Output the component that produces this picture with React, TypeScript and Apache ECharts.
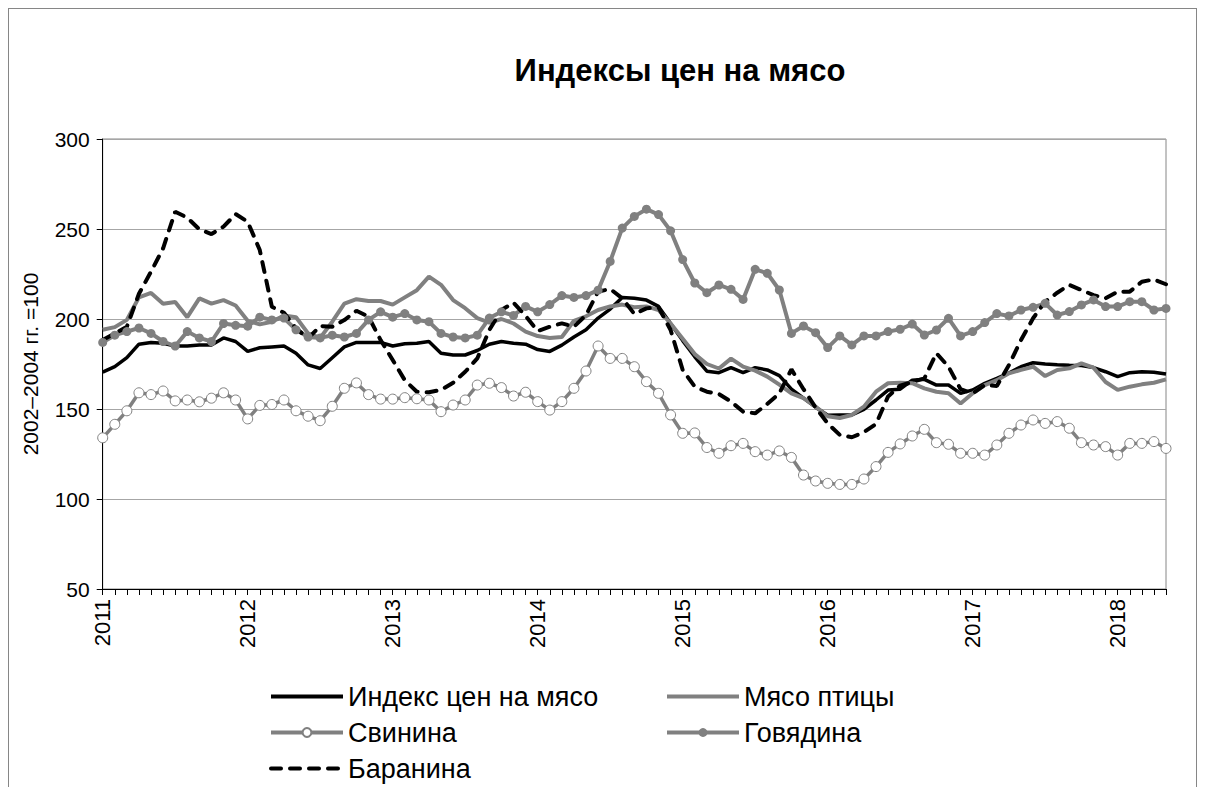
import React, { useEffect, useRef } from "react";
import * as echarts from "echarts";

const YEAR_LABELS = ["2011", "2012", "2013", "2014", "2015", "2016", "2017", "2018"];
const MONTH_LABELS = ["01", "02", "03", "04", "05", "06", "07", "08", "09", "10", "11", "12"];
// Jan 2011 .. May 2018 (89 months)
const CATEGORIES: string[] = [];
for (let y = 0; y < YEAR_LABELS.length; y++) {
  for (let m = 0; m < 12; m++) {
    if (y === YEAR_LABELS.length - 1 && m > 4) break;
    CATEGORIES.push(YEAR_LABELS[y] + "-" + MONTH_LABELS[m]);
  }
}

const SERIES_NAMES = ["Индекс цен на мясо", "Мясо птицы", "Свинина", "Говядина", "Баранина"];

const MEAT_INDEX = [
  170.5, 173.5, 178.5, 186, 187, 186.5, 185, 185, 185.5, 185.5, 189.5, 187.5,
  182, 184, 184.5, 185, 181, 174.5, 172.5, 178.5, 184.5, 187, 187, 187,
  185, 186.3, 186.5, 187.5, 181, 180, 180, 182.5, 186, 187.5, 186.5, 186,
  183, 182, 185.5, 190, 194, 200.5, 205.5, 212, 211.5, 210.5, 207, 197.5,
  188, 179, 171, 170.2, 173, 170.2, 173, 171.7, 168.5, 161, 156, 151,
  146.5, 146.7, 146.7, 149.8, 155, 160.5, 161, 166, 166.5, 163.3, 163.3, 158.7,
  160.6, 164.3, 167, 170, 173.5, 175.7, 175, 174.6, 174.3, 174.1, 173, 170.7,
  168, 170.2, 170.7, 170.4, 169.4,
];

const POULTRY = [
  194, 195.5, 199.5, 212, 214.5, 208.5, 209.5, 201, 211.5, 208.5, 210.5, 207.5,
  199, 197, 198.5, 202, 201, 192, 189.5, 198.5, 208.5, 211, 210, 210,
  208, 212, 216, 223.5, 219, 210.5, 206, 200.5, 198, 200, 197.5, 193,
  190.5, 189.5, 190, 199, 201.5, 205, 207, 208, 206.5, 207, 205, 197.5,
  189, 180.5, 175, 172.5, 178, 173.5, 171.3, 168, 163.5, 158.7, 156, 151.3,
  146, 145, 146.7, 151.3, 159.6, 164.3, 164.6, 164.3, 161.5, 159.6, 158.7, 153,
  158.7, 163.3, 166, 169.8, 171.7, 173.5, 168.3, 171.7, 172.6, 175.4, 173, 165,
  160.6, 162.4, 163.7, 164.6, 166.5,
];

const PORK = [
  134, 141.5, 149, 159, 158, 160, 154.5, 155, 154, 156, 159, 155,
  144.5, 152, 152.5, 155, 149, 146, 143.5, 151.5, 161.5, 164.5, 158, 155.5,
  155.5, 156.3, 155.7, 155, 148.5, 152.2, 155, 163.3, 164.3, 161.9, 157.2, 159.3,
  154.1, 149.4, 154.1, 161.5, 171.1, 185, 178.1, 178.1, 173.5, 165.2, 158.7, 146.7,
  136.5, 136.7, 128.6, 125.4, 129.6, 130.9, 126.3, 124.4, 126.7, 123.1, 113.3, 110,
  108.7, 108.1, 108.1, 111.1, 118, 125.9, 130.6, 135, 138.7, 131.3, 130.4, 125.4,
  125.4, 124.4, 130, 136.5, 141.1, 143.9, 142, 143, 139.3, 131.3, 130, 129.1,
  124.4, 130.9, 130.9, 131.9, 128.1,
];

const BEEF = [
  187, 191, 193, 195, 192, 187.5, 185, 193, 189.5, 187.5, 197.5, 196.5,
  196, 201, 199.5, 200.5, 194, 190, 189.5, 191, 190, 192, 199.5, 204,
  201, 203, 199.5, 198.5, 192, 190, 189.5, 191, 200.5, 204, 202, 207,
  204, 208, 213, 212, 213, 216, 232, 250.5, 257, 261, 258, 249,
  233, 220, 214.6, 218.9, 216.5, 210.9, 227.6, 225.4, 216.1, 192, 196.1, 192.4,
  184.1, 190.6, 185.6, 190.6, 190.6, 193, 194.3, 197.2, 191.1, 193.9, 200.4, 190.6,
  193, 198, 203, 201.7, 205, 206.5, 208.7, 202.2, 204.1, 207.8, 210.6, 206.9,
  206.9, 209.6, 209.6, 205, 205.9,
];

const LAMB = [
  188.3, 192, 195.7, 214, 226.3, 239.3, 259.6, 256.3, 249.8, 247.2, 251.3, 258.3,
  254, 238.3, 206.8, 203.5, 194.8, 189.3, 196.1, 195.7, 199.4, 204.6, 201.3, 188.3,
  177.2, 166, 159.6, 159.3, 160.6, 164.6, 170.7, 178.1, 193.9, 205, 209.1, 201.7,
  193.3, 195.7, 197.6, 195.7, 202.2, 215.2, 216.7, 211.5, 202.8, 205.9, 206.5, 193.9,
  171.7, 162.4, 159.6, 158.3, 154.1, 148.5, 147.6, 152.8, 158.7, 172, 161, 150.9,
  142, 135.6, 134.3, 137.1, 141.7, 157, 163, 165, 167, 181, 173.5, 161,
  158.7, 163.3, 162.8, 174.4, 188.3, 200.4, 209.6, 214.6, 218.9, 216.1, 213.3, 211.5,
  215.2, 215.2, 220.7, 222, 219.3,
];

const Y_MIN = 50;
const Y_MAX = 300;
const Y_STEP = 50;

const FONT = "'Liberation Sans', Arial, sans-serif";
const GRAY = "#808080";
const CHART_W = 1187;
const CHART_H = 830;

export default function App() {
  const ref = useRef<HTMLDivElement>(null);

  useEffect(() => {
    if (!ref.current) return;
    const chart = echarts.init(ref.current, null, { renderer: "svg" });
    const legendText = { fontSize: 27, lineHeight: 29, color: "#000", fontFamily: FONT };
    const noDot = { opacity: 0 };
    const legendCommon = {
      orient: "vertical",
      top: 668,
      height: 150,
      itemWidth: 72,
      itemHeight: 11,
      itemGap: 7,
      textStyle: legendText,
      lineStyle: { width: 4 },
    };
    chart.setOption({
      animation: false,
      backgroundColor: "#fff",
      textStyle: { fontFamily: FONT },
      graphic: [
        {
          type: "text",
          x: 671,
          y: 61,
          style: {
            text: "Индексы цен на мясо",
            font: `bold 31px ${FONT}`,
            fill: "#000",
            textAlign: "center",
            textVerticalAlign: "middle",
          },
        },
      ],
      grid: {
        left: 93.7,
        top: 130,
        right: 30,
        height: 450,
        show: true,
        borderColor: "#868686",
        borderWidth: 1,
      },
      xAxis: {
        type: "category",
        data: CATEGORIES,
        boundaryGap: false,
        axisLine: { lineStyle: { color: "#000", width: 1 } },
        axisTick: { show: true, interval: 0, length: 6, lineStyle: { color: "#000" } },
        axisLabel: {
          interval: 11,
          rotate: 90,
          margin: 10,
          fontSize: 22,
          color: "#000",
          fontFamily: FONT,
          formatter: (v: string) => v.slice(0, 4),
        },
        splitLine: { show: false },
      },
      yAxis: {
        type: "value",
        min: Y_MIN,
        max: Y_MAX,
        interval: Y_STEP,
        name: "2002–2004 гг. =100",
        nameLocation: "middle",
        nameRotate: 90,
        nameGap: 62,
        nameTextStyle: { fontSize: 21, color: "#000", fontFamily: FONT },
        axisLine: { show: true, lineStyle: { color: "#000", width: 1 } },
        axisTick: { show: true, length: 6, lineStyle: { color: "#000" } },
        axisLabel: { fontSize: 21, color: "#000", margin: 13, fontFamily: FONT },
        splitLine: { show: true, lineStyle: { color: "#a6a6a6", width: 1 } },
      },
      legend: [
        {
          ...legendCommon,
          left: 255,
          data: [
            { name: SERIES_NAMES[0], itemStyle: noDot },
            { name: SERIES_NAMES[2] },
            { name: SERIES_NAMES[4], itemStyle: noDot },
          ],
        },
        {
          ...legendCommon,
          left: 651,
          data: [
            { name: SERIES_NAMES[1], itemStyle: noDot },
            { name: SERIES_NAMES[3] },
          ],
        },
      ],
      series: [
        {
          name: SERIES_NAMES[0],
          type: "line",
          data: MEAT_INDEX,
          symbol: "none",
          color: "#000",
          itemStyle: { color: "#000", opacity: 0 },
          lineStyle: { color: "#000", width: 3.5 },
        },
        {
          name: SERIES_NAMES[1],
          type: "line",
          data: POULTRY,
          symbol: "none",
          color: GRAY,
          itemStyle: { color: GRAY, opacity: 0 },
          lineStyle: { color: GRAY, width: 4 },
        },
        {
          name: SERIES_NAMES[2],
          type: "line",
          data: PORK,
          symbol: "circle",
          symbolSize: 10,
          showSymbol: true,
          showAllSymbol: true,
          color: GRAY,
          lineStyle: { color: GRAY, width: 3.5 },
          itemStyle: { color: "#fff", borderColor: GRAY, borderWidth: 1 },
        },
        {
          name: SERIES_NAMES[3],
          type: "line",
          data: BEEF,
          symbol: "circle",
          symbolSize: 9,
          showSymbol: true,
          showAllSymbol: true,
          color: GRAY,
          lineStyle: { color: GRAY, width: 4 },
          itemStyle: { color: GRAY },
        },
        {
          name: SERIES_NAMES[4],
          type: "line",
          data: LAMB,
          symbol: "none",
          color: "#000",
          itemStyle: { color: "#000", opacity: 0 },
          lineStyle: { color: "#000", width: 4, type: [10, 9], cap: "round" },
        },
      ],
    });
    return () => chart.dispose();
  }, []);

  return (
    <div style={{ width: CHART_W, height: CHART_H, border: "1px solid #868686", background: "#fff" }}>
      <div ref={ref} style={{ width: CHART_W, height: CHART_H }} />
    </div>
  );
}
